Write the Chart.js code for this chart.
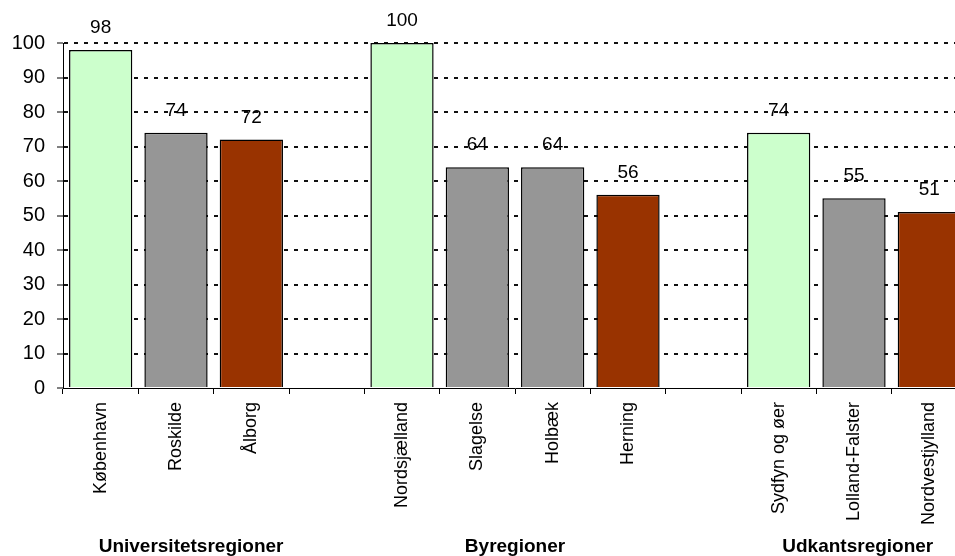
<!DOCTYPE html>
<html>
<head>
<meta charset="utf-8">
<script src="https://cdn.jsdelivr.net/npm/chart.js@4/dist/chart.umd.min.js"></script>
<style>
  html, body { margin: 0; padding: 0; background: #fff; overflow: hidden; }
  #wrap { width: 955px; height: 556px; overflow: hidden; }
</style>
</head>
<body>
<div id="wrap"><canvas id="chart" width="980" height="556"></canvas></div>
<script>
// regions, blank slots separate the three groups
const regions = ["København", "Roskilde", "Ålborg", "", "Nordsjælland", "Slagelse", "Holbæk", "Herning", "", "Sydfyn og øer", "Lolland-Falster", "Nordvestjylland"];
const values = [98, 74, 72, null, 100, 64, 64, 56, null, 74, 55, 51];
const yTicks = [0, 10, 20, 30, 40, 50, 60, 70, 80, 90, 100];

const groupNames = ["Universitetsregioner", "Byregioner", "Udkantsregioner"];
// where each group title sits, in category units on the x scale
const groupLabelAt = [1.2, 5.5, 10.05];

const GREEN = "#CCFFCC", GREY = "#969696", BROWN = "#993300";
const FONT = "Arial, 'Liberation Sans'";

// first bar of a group is green, last one brown, the rest grey
function barColor(ctx) {
  const i = ctx.dataIndex;
  if (i === 0 || values[i - 1] == null) return GREEN;
  if (i === values.length - 1 || values[i + 1] == null) return BROWN;
  return GREY;
}

const valueLabels = {
  id: "valueLabels",
  afterDatasetsDraw(chart) {
    const ctx = chart.ctx;
    const meta = chart.getDatasetMeta(0);
    ctx.save();
    ctx.font = "19px " + FONT;
    ctx.fillStyle = "#000";
    ctx.textAlign = "center";
    ctx.textBaseline = "alphabetic";
    meta.data.forEach((bar, i) => {
      if (values[i] == null) return;
      ctx.fillText(String(values[i]), bar.x, bar.y - 17);
    });
    ctx.restore();
  }
};

const groupLabels = {
  id: "groupLabels",
  afterDraw(chart) {
    const ctx = chart.ctx;
    const x = chart.scales.x;
    ctx.save();
    ctx.font = "bold 19px " + FONT;
    ctx.fillStyle = "#000";
    ctx.textAlign = "center";
    ctx.textBaseline = "alphabetic";
    groupNames.forEach((name, g) => {
      ctx.fillText(name, x.getPixelForValue(groupLabelAt[g]), 552);
    });
    ctx.restore();
  }
};

new Chart(document.getElementById("chart"), {
  type: "bar",
  data: {
    labels: regions,
    datasets: [{
      data: values,
      backgroundColor: barColor,
      borderColor: "#000",
      borderWidth: 1.5,
      categoryPercentage: 1,
      barPercentage: 0.84
    }]
  },
  options: {
    responsive: false,
    animation: false,
    layout: { padding: { left: 0, top: 43, right: 13, bottom: 0 } },
    plugins: { legend: { display: false }, tooltip: { enabled: false } },
    scales: {
      x: {
        offset: true,
        afterFit(scale) { scale.height = 168; },
        grid: { display: true, drawOnChartArea: false, tickLength: 6, tickColor: "#000", color: "#000" },
        border: { display: true, color: "#000", width: 1 },
        ticks: {
          autoSkip: false, minRotation: 90, maxRotation: 90, padding: 8,
          color: "#000", font: { family: FONT, size: 18 }
        }
      },
      y: {
        min: 0, max: 100,
        afterFit(scale) { scale.width = 63; },
        afterBuildTicks(scale) { scale.ticks = yTicks.map(v => ({ value: v })); },
        grid: {
          color: c => (c.tick && c.tick.value === 0) ? "rgba(0,0,0,0)" : "#111",
          lineWidth: 2,
          tickLength: 6, tickColor: "#000", tickWidth: 1, tickBorderDash: []
        },
        border: { display: true, color: "#000", width: 1, dash: [4, 6] },
        ticks: {
          padding: 12, color: "#000",
          font: { family: FONT, size: 20 }
        }
      }
    }
  },
  plugins: [valueLabels, groupLabels]
});
</script>
</body>
</html>
